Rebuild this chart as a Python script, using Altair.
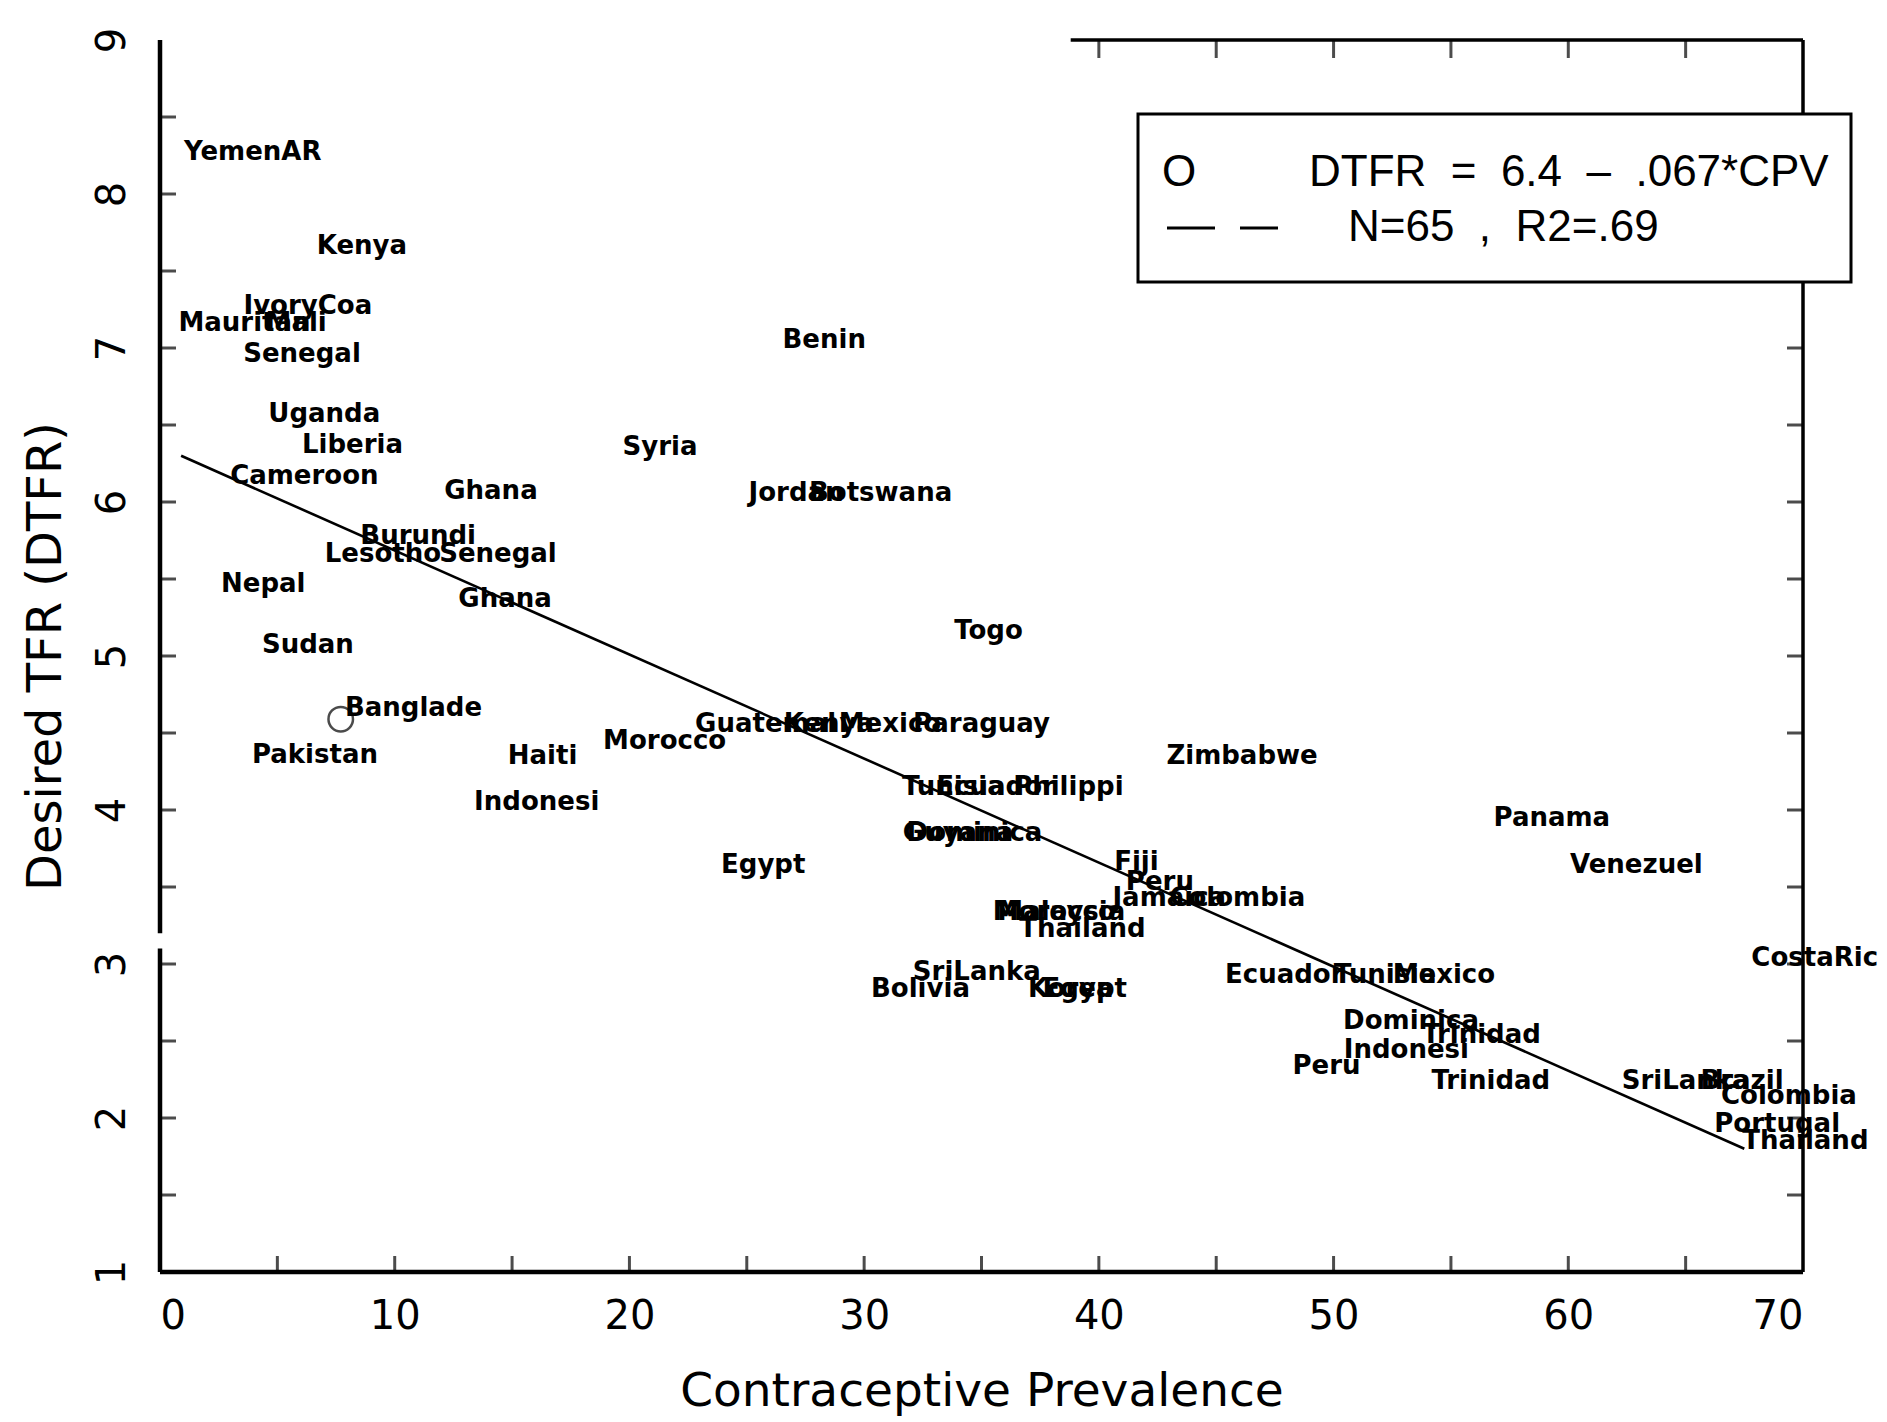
import altair as alt
import pandas as pd

# ---- data ----
labels = ["YemenAR", "Kenya", "IvoryCoa", "Mauritan", "Mali", "Senegal", "Uganda", "Liberia",
          "Cameroon", "Ghana", "Syria", "Benin", "Jordan", "Botswana", "Burundi", "Lesotho",
          "Senegal", "Nepal", "Ghana", "Sudan", "Togo", "Banglade", "Pakistan", "Haiti",
          "Indonesi", "Morocco", "Guatemal", "Kenya", "Mexico", "Paraguay", "Zimbabwe",
          "Tunisia", "Ecuador", "Philippi", "Dominica", "Guyana", "Egypt", "Fiji", "Peru",
          "Jamaica", "Colombia", "Malaysia", "Morocco", "Thailand", "SriLanka", "Bolivia",
          "Korea", "Egypt", "Ecuador", "Tunisia", "Mexico", "Panama", "Venezuel", "CostaRic",
          "Dominica", "Trinidad", "Indonesi", "Peru", "Trinidad", "SriLanka", "Brazil",
          "Colombia", "Portugal", "Thailand"]
cpv = [3.95, 8.6, 6.3, 3.6, 5.8, 6.05, 7.0, 8.2,
       6.15, 14.1, 21.3, 28.3, 27.1, 30.7, 11.0, 9.5,
       14.4, 4.4, 14.7, 6.3, 35.3, 10.8, 6.6, 16.3,
       16.05, 21.5, 25.8, 28.5, 31.1, 35.0, 46.1,
       33.8, 35.6, 38.7, 34.7, 34.0, 25.7, 41.6, 42.6,
       43.0, 45.9, 38.4, 38.1, 39.3, 34.8, 32.4,
       38.8, 39.4, 47.9, 52.2, 54.7, 59.3, 62.9, 70.5,
       53.3, 56.3, 53.1, 49.7, 56.7, 65.0, 67.4,
       69.4, 68.9, 70.1]
dtfr = [8.27, 7.66, 7.27, 7.16, 7.16, 6.96, 6.57, 6.37,
        6.17, 6.07, 6.36, 7.05, 6.06, 6.06, 5.78, 5.66,
        5.66, 5.47, 5.37, 5.07, 5.16, 4.66, 4.36, 4.35,
        4.05, 4.45, 4.56, 4.56, 4.56, 4.56, 4.35,
        4.15, 4.15, 4.15, 3.85, 3.85, 3.64, 3.66, 3.53,
        3.43, 3.43, 3.34, 3.34, 3.23, 2.95, 2.84,
        2.84, 2.84, 2.93, 2.93, 2.93, 3.95, 3.64, 3.04,
        2.63, 2.54, 2.44, 2.34, 2.24, 2.24, 2.24,
        2.14, 1.96, 1.85]

fit_x = [0.9, 67.5]
fit_y = [6.30, 1.80]

marker_x = [7.7]
marker_y = [4.59]

x_label_values = [0, 10, 20, 30, 40, 50, 60, 70]
y_label_values = [1, 2, 3, 4, 5, 6, 7, 8, 9]
bottom_ticks = [5, 10, 15, 20, 25, 30, 35, 40, 45, 50, 55, 60, 65]
top_ticks = [40, 45, 50, 55, 60, 65]
side_ticks = [1.5, 2, 2.5, 3, 3.5, 4, 4.5, 5, 5.5, 6, 6.5, 7, 7.5, 8, 8.5]

NB = "\u00a0"
legend_line1 = "DTFR" + NB * 2 + "=" + NB * 2 + "6.4" + NB * 2 + "\u2013" + NB * 2 + ".067*CPV"
legend_line2 = "N=65" + NB * 2 + "," + NB * 2 + "R2=.69"

# ---- build ----
W, H = 1643, 1232
xs = alt.Scale(domain=[0, 70], nice=False, zero=False)
ys = alt.Scale(domain=[1, 9], nice=False, zero=False)

AX = alt.Axis(
    values=x_label_values, domain=False, ticks=False, grid=False,
    labelFontSize=40, labelFont="DejaVu Sans", labelColor="black", labelPadding=24,
    title="Contraceptive Prevalence", titleFontSize=47, titleFont="DejaVu Sans",
    titleFontWeight="normal", titleColor="black", titlePadding=32)
AY = alt.Axis(
    values=y_label_values, domain=False, ticks=False, grid=False,
    labelFontSize=40, labelFont="DejaVu Sans", labelColor="black", labelAngle=270,
    labelAlign="center", labelBaseline="bottom", labelPadding=28,
    title="Desired TFR (DTFR)", titleFontSize=48, titleFont="DejaVu Sans",
    titleFontWeight="normal", titleColor="black", titlePadding=22)


def X(field):
    return alt.X(field, type="quantitative", scale=xs, axis=AX)


def Y(field):
    return alt.Y(field, type="quantitative", scale=ys, axis=AY)


pts = pd.DataFrame({"label": labels, "cpv": cpv, "dtfr": dtfr})

frame = pd.DataFrame({
    "x1": [0, 0, 0, 70, 38.8],
    "x2": [0, 0, 70, 70, 70],
    "y1": [1, 3.2, 1, 1, 9],
    "y2": [3.1, 9, 1, 9, 9],
    "w": [4.5, 4.5, 4.5, 3.5, 3.5],
})
frame_lines = alt.Chart(frame).mark_rule(color="black").encode(
    x=X("x1"), x2="x2:Q", y=Y("y1"), y2="y2:Q",
    strokeWidth=alt.StrokeWidth("w:Q", scale=None),
)

left_t = alt.Chart(pd.DataFrame({"v": side_ticks})).mark_tick(
    color="black", orient="horizontal", size=16, thickness=3).encode(
    y=Y("v"), x=alt.value(8))
right_t = alt.Chart(pd.DataFrame({"v": side_ticks})).mark_tick(
    color="black", orient="horizontal", size=16, thickness=3).encode(
    y=Y("v"), x=alt.value(W - 8))
bottom_t = alt.Chart(pd.DataFrame({"v": bottom_ticks})).mark_tick(
    color="black", orient="vertical", size=16, thickness=3).encode(
    x=X("v"), y=alt.value(H - 8))
top_t = alt.Chart(pd.DataFrame({"v": top_ticks})).mark_tick(
    color="black", orient="vertical", size=18, thickness=3).encode(
    x=X("v"), y=alt.value(9))

fit = alt.Chart(pd.DataFrame({"cpv": fit_x, "dtfr": fit_y})).mark_line(
    color="black", strokeWidth=2.6).encode(x=X("cpv"), y=Y("dtfr"))

marker = alt.Chart(pd.DataFrame({"cpv": marker_x, "dtfr": marker_y})).mark_point(
    shape="circle", size=600, filled=False, color="black", strokeWidth=2.5).encode(
    x=X("cpv"), y=Y("dtfr"))

text = alt.Chart(pts).mark_text(
    font="DejaVu Sans", fontSize=26, fontWeight="bold", align="center",
    baseline="middle", color="black").encode(
    x=X("cpv"), y=Y("dtfr"), text="label:N")

one = pd.DataFrame({"a": [0]})
box = alt.Chart(one).mark_rect(fill="white", stroke="black", strokeWidth=3).encode(
    x=alt.value(978), x2=alt.value(1691), y=alt.value(74), y2=alt.value(242))
leg_o = alt.Chart(one).mark_text(font="Liberation Sans", fontSize=44, align="center",
                                 baseline="middle", color="black").encode(
    x=alt.value(1019), y=alt.value(133), text=alt.value("O"))
leg_t1 = alt.Chart(one).mark_text(font="Liberation Sans", fontSize=44, align="left",
                                  baseline="middle", color="black").encode(
    x=alt.value(1149), y=alt.value(133), text=alt.value(legend_line1))
leg_t2 = alt.Chart(one).mark_text(font="Liberation Sans", fontSize=44, align="left",
                                  baseline="middle", color="black").encode(
    x=alt.value(1188), y=alt.value(188), text=alt.value(legend_line2))
leg_d1 = alt.Chart(one).mark_rule(color="black", strokeWidth=3).encode(
    x=alt.value(1007), x2=alt.value(1055), y=alt.value(188))
leg_d2 = alt.Chart(one).mark_rule(color="black", strokeWidth=3).encode(
    x=alt.value(1080), x2=alt.value(1118), y=alt.value(188))

chart = alt.layer(
    frame_lines, left_t, right_t, bottom_t, top_t, fit, marker, text,
    box, leg_o, leg_t1, leg_t2, leg_d1, leg_d2
).properties(
    width=W, height=H,
    autosize=alt.AutoSizeParams(type="none"),
    padding={"left": 160, "top": 40, "right": 84, "bottom": 150},
    background="white",
).configure_view(stroke=None)

chart.save("out.html", embed_options={"renderer": "svg", "actions": False})
